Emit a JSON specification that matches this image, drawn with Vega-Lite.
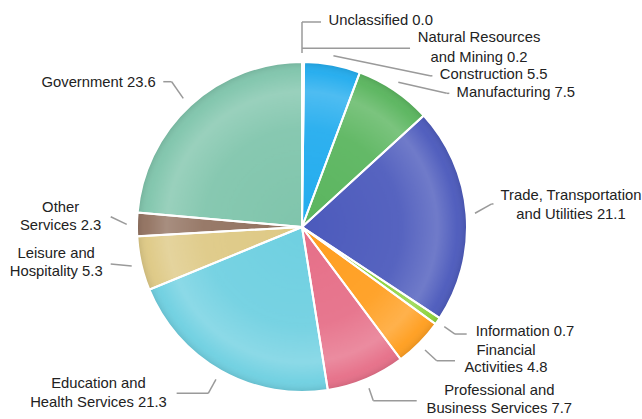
{
  "$schema": "https://vega.github.io/schema/vega-lite/v6.json",
  "width": 604,
  "height": 384,
  "autosize": {"type": "none"},
  "padding": {"left": 0, "top": 35, "right": 38, "bottom": 0},
  "background": "white",
  "config": {"view": {"stroke": null}, "font": "Liberation Sans"},
  "data": {
    "values": [
      {"category": "Unclassified", "value": 0.0, "label": "Unclassified 0.0"},
      {"category": "Natural Resources and Mining", "value": 0.2, "label": "Natural Resources\nand Mining 0.2"},
      {"category": "Construction", "value": 5.5, "label": "Construction 5.5"},
      {"category": "Manufacturing", "value": 7.5, "label": "Manufacturing 7.5"},
      {"category": "Trade, Transportation and Utilities", "value": 21.1, "label": "Trade, Transportation\nand Utilities 21.1"},
      {"category": "Information", "value": 0.7, "label": "Information 0.7"},
      {"category": "Financial Activities", "value": 4.8, "label": "Financial\nActivities 4.8"},
      {"category": "Professional and Business Services", "value": 7.7, "label": "Professional and\nBusiness Services 7.7"},
      {"category": "Education and Health Services", "value": 21.3, "label": "Education and\nHealth Services 21.3"},
      {"category": "Leisure and Hospitality", "value": 5.3, "label": "Leisure and\nHospitality 5.3"},
      {"category": "Other Services", "value": 2.3, "label": "Other\nServices 2.3"},
      {"category": "Government", "value": 23.6, "label": "Government 23.6"}
    ]
  },
  "transform": [
    {"stack": "value", "groupby": [], "as": ["v0", "v1"]},
    {"calculate": "PI * (datum.v0 + datum.v1) / 100", "as": "ang"},
    {"calculate": "sin(datum.ang)", "as": "px"},
    {"calculate": "cos(datum.ang)", "as": "py"}
  ],
  "layer": [
    {
      "mark": {"type": "arc", "outerRadius": 165, "stroke": null},
      "encoding": {
        "theta": {"field": "v0", "type": "quantitative", "scale": {"domain": [0, 100]}},
        "theta2": {"field": "v1"},
        "color": {
          "field": "category",
          "type": "nominal",
          "legend": null,
          "scale": {
            "domain": ["Unclassified", "Natural Resources and Mining", "Construction", "Manufacturing", "Trade, Transportation and Utilities", "Information", "Financial Activities", "Professional and Business Services", "Education and Health Services", "Leisure and Hospitality", "Other Services", "Government"],
            "range": ["#9E9E9E", "#C0CA33", "#22ACEE", "#5AB55E", "#4C5ABC", "#8CD23A", "#FF9E1F", "#E66F88", "#6FD0E1", "#DEC985", "#927260", "#80C5AC"]
          }
        }
      }
    },
    {
      "transform": [{"aggregate": [{"op": "sum", "field": "value", "as": "total"}]}],
      "mark": {
        "type": "arc",
        "outerRadius": 165,
        "stroke": null,
        "fill": {
          "gradient": "radial",
          "x1": 0.5, "y1": 0.5, "r1": 0,
          "x2": 0.5, "y2": 0.5, "r2": 0.5,
          "stops": [
            {"offset": 0, "color": "rgba(255,255,255,0)"},
            {"offset": 0.6, "color": "rgba(255,255,255,0.06)"},
            {"offset": 0.82, "color": "rgba(255,255,255,0.2)"},
            {"offset": 0.94, "color": "rgba(255,255,255,0.03)"},
            {"offset": 1, "color": "rgba(0,0,0,0.1)"}
          ]
        }
      },
      "encoding": {"theta": {"field": "total", "type": "quantitative"}}
    },
    {
      "mark": {"type": "arc", "outerRadius": 165, "filled": false, "stroke": "white", "strokeWidth": 2},
      "encoding": {
        "theta": {"field": "v0", "type": "quantitative"},
        "theta2": {"field": "v1"}
      }
    },
    {
      "encoding": {
        "x": {"field": "px", "type": "quantitative", "axis": null, "scale": {"domain": [-1.8303, 1.8303], "nice": false, "zero": false}},
        "y": {"field": "py", "type": "quantitative", "axis": null, "scale": {"domain": [-1.1636, 1.1636], "nice": false, "zero": false}}
      },
      "layer": [
        {
          "transform": [{"filter": "datum.category === 'Unclassified'"}],
          "layer": [
            {"mark": {"type": "rule", "color": "#9a9a9a", "strokeWidth": 1.5, "xOffset": 0, "yOffset": -9, "x2Offset": 0, "y2Offset": -40}, "encoding": {"x2": {"field": "px"}, "y2": {"field": "py"}}},
            {"mark": {"type": "rule", "color": "#9a9a9a", "strokeWidth": 1.5, "xOffset": 0, "yOffset": -40, "x2Offset": 19, "y2Offset": -40}, "encoding": {"x2": {"field": "px"}, "y2": {"field": "py"}}},
            {"mark": {"type": "text", "align": "center", "baseline": "middle", "lineBreak": "\n", "lineHeight": 19, "fontSize": 14.8, "color": "#222222", "dx": 78.7, "dy": -41}, "encoding": {"text": {"field": "label"}}}
          ]
        },
        {
          "transform": [{"filter": "datum.category === 'Natural Resources and Mining'"}],
          "layer": [
            {"mark": {"type": "rule", "color": "#9a9a9a", "strokeWidth": 1.5, "xOffset": -1, "yOffset": -13.7, "x2Offset": 107, "y2Offset": -13.7}, "encoding": {"x2": {"field": "px"}, "y2": {"field": "py"}}},
            {"mark": {"type": "text", "align": "center", "baseline": "middle", "lineBreak": "\n", "lineHeight": 19.5, "fontSize": 14.8, "color": "#222222", "dx": 176, "dy": -23.6}, "encoding": {"text": {"field": "label"}}}
          ]
        },
        {
          "transform": [{"filter": "datum.category === 'Construction'"}],
          "layer": [
            {"mark": {"type": "rule", "color": "#9a9a9a", "strokeWidth": 1.5, "xOffset": 1, "yOffset": -9, "x2Offset": 97.6, "y2Offset": 11}, "encoding": {"x2": {"field": "px"}, "y2": {"field": "py"}}},
            {"mark": {"type": "rule", "color": "#9a9a9a", "strokeWidth": 1.5, "xOffset": 97.6, "yOffset": 11, "x2Offset": 100, "y2Offset": 11}, "encoding": {"x2": {"field": "px"}, "y2": {"field": "py"}}},
            {"mark": {"type": "text", "align": "center", "baseline": "middle", "lineBreak": "\n", "lineHeight": 19, "fontSize": 14.8, "color": "#222222", "dx": 161.3, "dy": 10.2}, "encoding": {"text": {"field": "label"}}}
          ]
        },
        {
          "transform": [{"filter": "datum.category === 'Manufacturing'"}],
          "layer": [
            {"mark": {"type": "rule", "color": "#9a9a9a", "strokeWidth": 1.5, "xOffset": 4, "yOffset": -7.9, "x2Offset": 52.4, "y2Offset": 3.1}, "encoding": {"x2": {"field": "px"}, "y2": {"field": "py"}}},
            {"mark": {"type": "rule", "color": "#9a9a9a", "strokeWidth": 1.5, "xOffset": 52.4, "yOffset": 3.1, "x2Offset": 55, "y2Offset": 3.1}, "encoding": {"x2": {"field": "px"}, "y2": {"field": "py"}}},
            {"mark": {"type": "text", "align": "center", "baseline": "middle", "lineBreak": "\n", "lineHeight": 19, "fontSize": 14.8, "color": "#222222", "dx": 121.5, "dy": 2.5}, "encoding": {"text": {"field": "label"}}}
          ]
        },
        {
          "transform": [{"filter": "datum.category === 'Trade, Transportation and Utilities'"}],
          "layer": [
            {"mark": {"type": "rule", "color": "#9a9a9a", "strokeWidth": 1.5, "xOffset": 8.5, "yOffset": -0.8, "x2Offset": 25.2, "y2Offset": -10.1}, "encoding": {"x2": {"field": "px"}, "y2": {"field": "py"}}},
            {"mark": {"type": "rule", "color": "#9a9a9a", "strokeWidth": 1.5, "xOffset": 25.2, "yOffset": -10.1, "x2Offset": 27, "y2Offset": -10.1}, "encoding": {"x2": {"field": "px"}, "y2": {"field": "py"}}},
            {"mark": {"type": "text", "align": "center", "baseline": "middle", "lineBreak": "\n", "lineHeight": 19, "fontSize": 14.8, "color": "#222222", "dx": 104.5, "dy": -18.1}, "encoding": {"text": {"field": "label"}}}
          ]
        },
        {
          "transform": [{"filter": "datum.category === 'Information'"}],
          "layer": [
            {"mark": {"type": "rule", "color": "#9a9a9a", "strokeWidth": 1.5, "xOffset": 6.7, "yOffset": 5.7, "x2Offset": 17.4, "y2Offset": 13}, "encoding": {"x2": {"field": "px"}, "y2": {"field": "py"}}},
            {"mark": {"type": "rule", "color": "#9a9a9a", "strokeWidth": 1.5, "xOffset": 17.4, "yOffset": 13, "x2Offset": 29.1, "y2Offset": 13}, "encoding": {"x2": {"field": "px"}, "y2": {"field": "py"}}},
            {"mark": {"type": "text", "align": "center", "baseline": "middle", "lineBreak": "\n", "lineHeight": 19, "fontSize": 14.8, "color": "#222222", "dx": 87.4, "dy": 11.3}, "encoding": {"text": {"field": "label"}}}
          ]
        },
        {
          "transform": [{"filter": "datum.category === 'Financial Activities'"}],
          "layer": [
            {"mark": {"type": "rule", "color": "#9a9a9a", "strokeWidth": 1.5, "xOffset": 5.6, "yOffset": 7.1, "x2Offset": 17.3, "y2Offset": 17.8}, "encoding": {"x2": {"field": "px"}, "y2": {"field": "py"}}},
            {"mark": {"type": "rule", "color": "#9a9a9a", "strokeWidth": 1.5, "xOffset": 17.3, "yOffset": 17.8, "x2Offset": 35.6, "y2Offset": 17.8}, "encoding": {"x2": {"field": "px"}, "y2": {"field": "py"}}},
            {"mark": {"type": "text", "align": "center", "baseline": "middle", "lineBreak": "\n", "lineHeight": 17.8, "fontSize": 14.8, "color": "#222222", "dx": 86.6, "dy": 7.7}, "encoding": {"text": {"field": "label"}}}
          ]
        },
        {
          "transform": [{"filter": "datum.category === 'Professional and Business Services'"}],
          "layer": [
            {"mark": {"type": "rule", "color": "#9a9a9a", "strokeWidth": 1.5, "xOffset": 2.9, "yOffset": 9.3, "x2Offset": 7.2, "y2Offset": 21.7}, "encoding": {"x2": {"field": "px"}, "y2": {"field": "py"}}},
            {"mark": {"type": "rule", "color": "#9a9a9a", "strokeWidth": 1.5, "xOffset": 7.2, "yOffset": 21.7, "x2Offset": 50.6, "y2Offset": 21.7}, "encoding": {"x2": {"field": "px"}, "y2": {"field": "py"}}},
            {"mark": {"type": "text", "align": "center", "baseline": "middle", "lineBreak": "\n", "lineHeight": 17.5, "fontSize": 14.8, "color": "#222222", "dx": 133.2, "dy": 12}, "encoding": {"text": {"field": "label"}}}
          ]
        },
        {
          "transform": [{"filter": "datum.category === 'Education and Health Services'"}],
          "layer": [
            {"mark": {"type": "rule", "color": "#9a9a9a", "strokeWidth": 1.5, "xOffset": -5.2, "yOffset": 8.5, "x2Offset": -12.9, "y2Offset": 22.5}, "encoding": {"x2": {"field": "px"}, "y2": {"field": "py"}}},
            {"mark": {"type": "rule", "color": "#9a9a9a", "strokeWidth": 1.5, "xOffset": -12.9, "yOffset": 22.5, "x2Offset": -44.5, "y2Offset": 22.5}, "encoding": {"x2": {"field": "px"}, "y2": {"field": "py"}}},
            {"mark": {"type": "text", "align": "center", "baseline": "middle", "lineBreak": "\n", "lineHeight": 19, "fontSize": 14.8, "color": "#222222", "dx": -122.7, "dy": 13.2}, "encoding": {"text": {"field": "label"}}}
          ]
        },
        {
          "transform": [{"filter": "datum.category === 'Leisure and Hospitality'"}],
          "layer": [
            {"mark": {"type": "rule", "color": "#9a9a9a", "strokeWidth": 1.5, "xOffset": -9.4, "yOffset": 2.5, "x2Offset": -30.4, "y2Offset": 0.5}, "encoding": {"x2": {"field": "px"}, "y2": {"field": "py"}}},
            {"mark": {"type": "text", "align": "center", "baseline": "middle", "lineBreak": "\n", "lineHeight": 18, "fontSize": 14.8, "color": "#222222", "dx": -84.9, "dy": -9.2}, "encoding": {"text": {"field": "label"}}}
          ]
        },
        {
          "transform": [{"filter": "datum.category === 'Other Services'"}],
          "layer": [
            {"mark": {"type": "rule", "color": "#9a9a9a", "strokeWidth": 1.5, "xOffset": -10.3, "yOffset": -0.1, "x2Offset": -26.3, "y2Offset": -7.7}, "encoding": {"x2": {"field": "px"}, "y2": {"field": "py"}}},
            {"mark": {"type": "text", "align": "center", "baseline": "middle", "lineBreak": "\n", "lineHeight": 18, "fontSize": 14.8, "color": "#222222", "dx": -76.4, "dy": -16.7}, "encoding": {"text": {"field": "label"}}}
          ]
        },
        {
          "transform": [{"filter": "datum.category === 'Government'"}],
          "layer": [
            {"mark": {"type": "rule", "color": "#9a9a9a", "strokeWidth": 1.5, "xOffset": -7.3, "yOffset": -7, "x2Offset": -18.9, "y2Offset": -23.6}, "encoding": {"x2": {"field": "px"}, "y2": {"field": "py"}}},
            {"mark": {"type": "rule", "color": "#9a9a9a", "strokeWidth": 1.5, "xOffset": -18.9, "yOffset": -23.6, "x2Offset": -27.3, "y2Offset": -23.6}, "encoding": {"x2": {"field": "px"}, "y2": {"field": "py"}}},
            {"mark": {"type": "text", "align": "center", "baseline": "middle", "lineBreak": "\n", "lineHeight": 19, "fontSize": 14.8, "color": "#222222", "dx": -91.9, "dy": -22.6}, "encoding": {"text": {"field": "label"}}}
          ]
        }
      ]
    }
  ]
}
